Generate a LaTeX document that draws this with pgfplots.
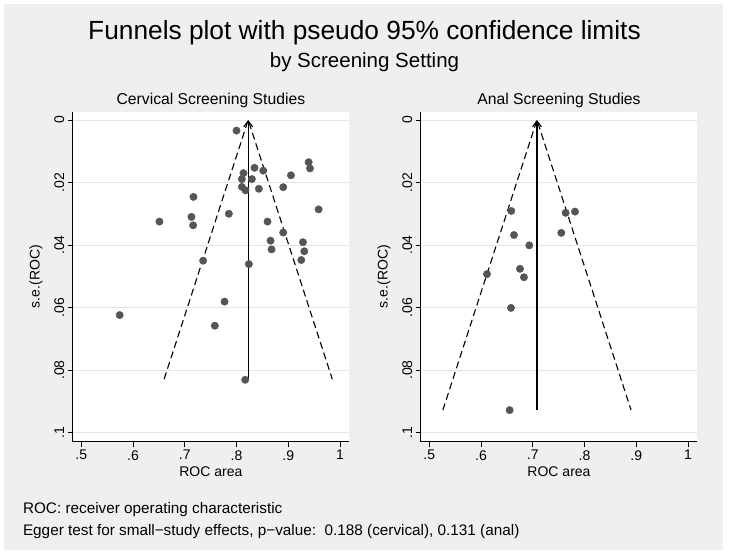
\documentclass[border=0pt]{standalone}
\usepackage{fontspec}
\setmainfont{Liberation Sans}
\usepackage{pgfplots}
\pgfplotsset{compat=1.18}
\usetikzlibrary{arrows.meta}

\definecolor{bgc}{RGB}{239,239,239}
\definecolor{gridc}{RGB}{228,228,228}
\definecolor{dotc}{RGB}{85,85,85}

% s.e. and ROC area
\pgfplotstableread{
roc se
0.800 0.0034
0.9394 0.0135
0.942 0.0155
0.8348 0.0153
0.8516 0.0162
0.8135 0.0170
0.9052 0.0177
0.8103 0.0189
0.8297 0.0189
0.8103 0.0214
0.8174 0.0225
0.8432 0.0220
0.8903 0.0215
0.7168 0.0246
0.9587 0.0286
0.7852 0.0300
0.7129 0.0310
0.6510 0.0325
0.7161 0.0337
0.8600 0.0325
0.8903 0.0360
0.8658 0.0386
0.9284 0.0391
0.8677 0.0414
0.9310 0.0420
0.9252 0.0448
0.7355 0.0450
0.8239 0.0461
0.7768 0.0581
0.5742 0.0624
0.7581 0.0658
0.8168 0.0831
}\cervical

\pgfplotstableread{
roc se
0.6585 0.0291
0.7635 0.0297
0.7816 0.0293
0.6637 0.0368
0.7552 0.0361
0.6933 0.0401
0.6115 0.0493
0.6753 0.0476
0.6830 0.0503
0.6579 0.0601
0.6553 0.0928
}\anal

\pgfplotsset{
  funnel/.style={
    scale only axis,
    width=276.3pt, height=330pt,
    xmin=0.4834, xmax=1.0174,
    ymin=-0.00265, ymax=0.1029,
    y dir=reverse,
    axis x line*=bottom, axis y line*=left,
    axis line style={line width=0.8pt},
    axis background/.style={fill=white},
    tick align=outside, major tick length=5pt,
    tick style={black, line width=0.8pt},
    xtick={0.5,0.6,0.7,0.8,0.9,1},
    xticklabels={.5,.6,.7,.8,.9,1},
    ytick={0,0.02,0.04,0.06,0.08,0.1},
    yticklabels={0,.02,.04,.06,.08,.1},
    tick label style={font=\fontsize{14}{16}\selectfont},
    yticklabel style={rotate=90, anchor=south},
    ymajorgrids,
    major grid style={draw=gridc, line width=0.8pt},
    clip=false,
  },
  dots/.style={only marks, mark=*, mark size=3.7pt, mark options={fill=dotc, draw=dotc}},
  limits/.style={black, line width=1.1pt, dash pattern=on 7pt off 4pt},
  effect/.style={black, line width=1.1pt, -{Straight Barb[length=6pt, width=9pt, line width=1.1pt]}},
}

\begin{document}
\begin{tikzpicture}[x=1pt, y=1pt]
\fill[white] (0,0) rectangle (729,556);
\fill[bgc] (4,6) rectangle (723,552);

\node[font=\fontsize{26.3}{30}\selectfont] at (364.5,523) {Funnels plot with pseudo 95\% confidence limits};
\node[font=\fontsize{20.5}{24}\selectfont] at (364.5,494) {by Screening Setting};

\begin{axis}[funnel, at={(72.7pt,114.3pt)}, anchor=south west]
\addplot[limits] coordinates {(0.6601,0.0829) (0.8226,0) (0.9851,0.0829)};
\addplot[effect] coordinates {(0.8226,0.0829) (0.8226,0)};
\addplot[dots] table[x=roc, y=se] {\cervical};
\end{axis}

\begin{axis}[funnel, at={(420.7pt,114.3pt)}, anchor=south west]
\addplot[limits] coordinates {(0.5262,0.0928) (0.7081,0) (0.8900,0.0928)};
\addplot[effect] coordinates {(0.7081,0.0928) (0.7081,0)};
\addplot[dots] table[x=roc, y=se] {\anal};
\end{axis}

\node[font=\fontsize{15.7}{18}\selectfont] at (210.9,456) {Cervical Screening Studies};
\node[font=\fontsize{15.7}{18}\selectfont] at (559,456) {Anal Screening Studies};
\node[font=\fontsize{14}{16}\selectfont] at (210.9,84.5) {ROC area};
\node[font=\fontsize{14}{16}\selectfont] at (559,84.5) {ROC area};
\node[font=\fontsize{14}{16}\selectfont, rotate=90] at (36,279.3) {s.e.(ROC)};
\node[font=\fontsize{14}{16}\selectfont, rotate=90] at (384,279.3) {s.e.(ROC)};

\node[font=\fontsize{15.3}{18}\selectfont, anchor=base west] at (19.5,42) {ROC: receiver operating characteristic};
\node[font=\fontsize{15.3}{18}\selectfont, anchor=base west] at (19.5,20) {Egger test for small−study effects, p−value:\ \ 0.188 (cervical), 0.131 (anal)};
\end{tikzpicture}
\end{document}
